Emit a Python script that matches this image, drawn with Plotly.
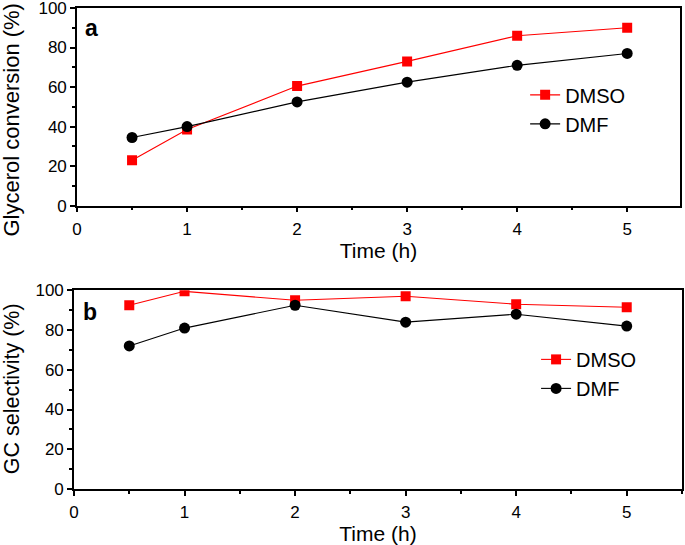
import plotly.graph_objects as go

time_h = [0.5, 1, 2, 3, 4, 5]
conv_dmso = [23, 38.5, 60.5, 73, 86, 90]
conv_dmf = [34.5, 40, 52.5, 62.5, 71, 77]
sel_dmso = [92.5, 99.5, 95, 97, 93, 91.5]
sel_dmf = [72, 81, 92.5, 84, 88, 82]
x_ticks = [0, 1, 2, 3, 4, 5]
y_ticks = [0, 20, 40, 60, 80, 100]

RED = "#ff0000"
BLK = "#000000"
FONT = "Liberation Sans"

fig = go.Figure()

def add_pair(y1, y2, xa, ya, leg):
    fig.add_trace(go.Scatter(x=time_h, y=y1, name="DMSO", mode="lines+markers",
                             line=dict(color=RED, width=1.1),
                             marker=dict(symbol="square", size=10, color=RED),
                             xaxis=xa, yaxis=ya, legend=leg))
    fig.add_trace(go.Scatter(x=time_h, y=y2, name="DMF", mode="lines+markers",
                             line=dict(color=BLK, width=1.1),
                             marker=dict(symbol="circle", size=11, color=BLK),
                             xaxis=xa, yaxis=ya, legend=leg))

add_pair(conv_dmso, conv_dmf, "x", "y", "legend")
add_pair(sel_dmso, sel_dmf, "x2", "y2", "legend2")

minor_style = dict(ticks="outside", ticklen=3, tickwidth=1.5, tickcolor="black")
ax_common = dict(showline=True, linecolor="black", linewidth=1.6, mirror=True,
                 ticks="outside", ticklen=5, tickwidth=1.6, tickcolor="black",
                 showgrid=False, zeroline=False, automargin=False,
                 ticklabeloverflow="allow",
                 tickfont=dict(family=FONT, size=17, color="black"))

def xaxis(domain, rng, anchor):
    return dict(ax_common, domain=domain, range=rng, anchor=anchor, tickvals=x_ticks,
                ticklabelstandoff=2,
                minor=dict(minor_style, dtick=0.5, tick0=0),
                title=dict(text="Time (h)", font=dict(family=FONT, size=21, color="black"), standoff=5))

def yaxis(domain, anchor):
    return dict(ax_common, domain=domain, range=[0, 100], anchor=anchor, tickvals=y_ticks,
                minor=dict(minor_style, dtick=10, tick0=0))

fig.update_layout(
    width=685, height=545,
    margin=dict(l=74, r=3, t=8, b=56),
    plot_bgcolor="white", paper_bgcolor="white",
    xaxis=xaxis([0.005, 0.9967], [0, 5.48], "y"),
    yaxis=yaxis([0.589, 1], "x"),
    xaxis2=xaxis([0, 1], [0, 5.5], "y2"),
    yaxis2=yaxis([0, 0.413], "x2"),
    legend=dict(x=0.742, y=0.86, xref="paper", yref="paper", xanchor="left", yanchor="top",
                bgcolor="rgba(0,0,0,0)", font=dict(family=FONT, size=20, color="black"),
                tracegroupgap=0, itemwidth=30),
    legend2=dict(x=0.76, y=0.31, xref="paper", yref="paper", xanchor="left", yanchor="top",
                 bgcolor="rgba(0,0,0,0)", font=dict(family=FONT, size=20, color="black"),
                 tracegroupgap=0, itemwidth=30),
    showlegend=True,
)

# y-axis titles
fig.add_annotation(text="Glycerol conversion (%)", x=-0.102, y=0.768, xref="paper", yref="paper",
                   textangle=-90, showarrow=False, xanchor="center", yanchor="middle",
                   font=dict(family=FONT, size=22, color="black"))
fig.add_annotation(text="GC selectivity (%)", x=-0.102, y=0.2095, xref="paper", yref="paper",
                   textangle=-90, showarrow=False, xanchor="center", yanchor="middle",
                   font=dict(family=FONT, size=21.5, color="black"))

# panel letters
fig.add_annotation(text="<b>a</b>", x=0.015, y=0.99, xref="paper", yref="paper",
                   showarrow=False, xanchor="left", yanchor="top",
                   font=dict(family=FONT, size=23, color="black"))
fig.add_annotation(text="<b>b</b>", x=0.012, y=0.40, xref="paper", yref="paper",
                   showarrow=False, xanchor="left", yanchor="top",
                   font=dict(family=FONT, size=23, color="black"))

fig.write_html("out.html", config={"displayModeBar": False},
               post_script="document.body.style.margin='0';")
